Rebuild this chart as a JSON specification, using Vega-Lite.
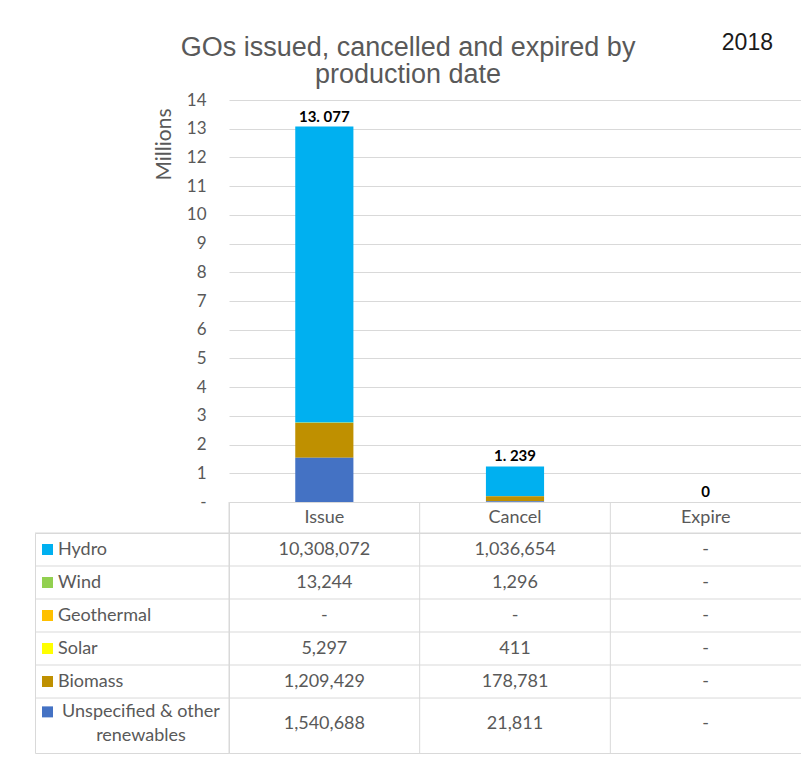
{
  "$schema": "https://vega.github.io/schema/vega-lite/v6.json",
  "padding": {"left": 34, "top": 32, "right": 1, "bottom": 5},
  "background": "white",
  "datasets": {
    "go": [
      {"source": "Hydro", "stage": "Issue", "value": 10308072},
      {"source": "Hydro", "stage": "Cancel", "value": 1036654},
      {"source": "Hydro", "stage": "Expire", "value": 0},
      {"source": "Wind", "stage": "Issue", "value": 13244},
      {"source": "Wind", "stage": "Cancel", "value": 1296},
      {"source": "Wind", "stage": "Expire", "value": 0},
      {"source": "Geothermal", "stage": "Issue", "value": 0},
      {"source": "Geothermal", "stage": "Cancel", "value": 0},
      {"source": "Geothermal", "stage": "Expire", "value": 0},
      {"source": "Solar", "stage": "Issue", "value": 5297},
      {"source": "Solar", "stage": "Cancel", "value": 411},
      {"source": "Solar", "stage": "Expire", "value": 0},
      {"source": "Biomass", "stage": "Issue", "value": 1209429},
      {"source": "Biomass", "stage": "Cancel", "value": 178781},
      {"source": "Biomass", "stage": "Expire", "value": 0},
      {"source": "Unspecified & other renewables", "stage": "Issue", "value": 1540688},
      {"source": "Unspecified & other renewables", "stage": "Cancel", "value": 21811},
      {"source": "Unspecified & other renewables", "stage": "Expire", "value": 0}
    ]
  },
  "data": {"name": "go"},
  "columns": 2,
  "spacing": 0,
  "bounds": "flush",
  "concat": [
    {
      "width": 194,
      "height": 402,
      "title": {
        "text": ["GOs issued, cancelled and expired by", "production date"],
        "anchor": "start",
        "align": "center",
        "baseline": "alphabetic",
        "frame": "group",
        "offset": -10,
        "dx": 373,
        "fontSize": 27,
        "font": "Liberation Sans",
        "fontWeight": "normal",
        "color": "#595959",
        "lineHeight": 27
      },
      "data": {"values": []},
      "mark": "point"
    },
    {
      "width": 572,
      "height": 402,
      "title": {
        "text": "2018",
        "anchor": "end",
        "baseline": "alphabetic",
        "frame": "group",
        "offset": 18,
        "dx": -28,
        "fontSize": 23,
        "font": "Liberation Sans",
        "fontWeight": "normal",
        "color": "#1a1a1a"
      },
      "encoding": {
        "x": {
          "field": "stage",
          "type": "nominal",
          "sort": ["Issue", "Cancel", "Expire"],
          "scale": {"paddingInner": 0, "paddingOuter": 0},
          "axis": null
        }
      },
      "layer": [
        {
          "transform": [
            {"calculate": "indexof(['Unspecified & other renewables', 'Biomass', 'Solar', 'Geothermal', 'Wind', 'Hydro'], datum.source)", "as": "stackorder"}
          ],
          "mark": {"type": "bar", "width": {"band": 0.305}},
          "encoding": {
            "y": {
              "field": "value",
              "type": "quantitative",
              "stack": "zero",
              "scale": {"domain": [0, 14000000], "nice": false},
              "axis": {
                "values": [0, 1000000, 2000000, 3000000, 4000000, 5000000, 6000000, 7000000, 8000000, 9000000, 10000000, 11000000, 12000000, 13000000, 14000000],
                "tickCount": 20,
                "labelExpr": "datum.value == 0 ? '-' : format(datum.value / 1000000, 'd')",
                "labelOverlap": false,
                "title": "Millions",
                "titleAnchor": "end",
                "titleY": 8,
                "titleFont": "Lato",
                "titleFontSize": 21,
                "titleFontWeight": "normal",
                "titleColor": "#595959",
                "titlePadding": 12,
                "labelFont": "Lato",
                "labelFontSize": 17,
                "labelColor": "#595959",
                "labelPadding": 23,
                "ticks": false,
                "domain": false,
                "grid": true,
                "gridColor": "#d9d9d9"
              }
            },
            "color": {
              "field": "source",
              "type": "nominal",
              "scale": {
                "domain": ["Unspecified & other renewables", "Biomass", "Solar", "Geothermal", "Wind", "Hydro"],
                "range": ["#4472C4", "#BF9000", "#FFFF00", "#FFC000", "#92D050", "#00B0F0"]
              },
              "legend": null
            },
            "order": {"field": "stackorder", "type": "quantitative", "sort": "ascending"}
          }
        },
        {
          "transform": [
            {"aggregate": [{"op": "sum", "field": "value", "as": "total"}], "groupby": ["stage"]},
            {"calculate": "datum.total == 0 ? '0' : replace(format(datum.total / 1000000, '.3f'), '.', '. ')", "as": "label"}
          ],
          "mark": {"type": "text", "baseline": "alphabetic", "dy": -5, "font": "Lato", "fontWeight": "bold", "fontSize": 15, "color": "#000000"},
          "encoding": {
            "y": {
              "field": "total",
              "type": "quantitative",
              "axis": {
                "values": [0, 1000000, 2000000, 3000000, 4000000, 5000000, 6000000, 7000000, 8000000, 9000000, 10000000, 11000000, 12000000, 13000000, 14000000],
                "tickCount": 20,
                "labelExpr": "datum.value == 0 ? '-' : format(datum.value / 1000000, 'd')",
                "labelOverlap": false,
                "title": "Millions",
                "titleAnchor": "end",
                "titleY": 8,
                "titleFont": "Lato",
                "titleFontSize": 21,
                "titleFontWeight": "normal",
                "titleColor": "#595959",
                "titlePadding": 12,
                "labelFont": "Lato",
                "labelFontSize": 17,
                "labelColor": "#595959",
                "labelPadding": 23,
                "ticks": false,
                "domain": false,
                "grid": true,
                "gridColor": "#d9d9d9"
              }
            },
            "text": {"field": "label"}
          }
        }
      ]
    },
    {
      "width": 194,
      "height": 31,
      "data": {"values": []},
      "mark": "point"
    },
    {
      "width": 572,
      "height": 31,
      "view": {"stroke": "#d9d9d9"},
      "transform": [{"aggregate": [{"op": "count", "as": "n"}], "groupby": ["stage"]}],
      "layer": [
        {
          "mark": {"type": "rule", "color": "#d9d9d9"},
          "encoding": {
            "x": {"field": "stage", "type": "nominal", "sort": ["Issue", "Cancel", "Expire"], "bandPosition": 0, "scale": {"paddingInner": 0, "paddingOuter": 0}, "axis": null}
          }
        },
        {
          "mark": {"type": "text", "font": "Lato", "fontSize": 18, "color": "#595959"},
          "encoding": {
            "x": {"field": "stage", "type": "nominal", "sort": ["Issue", "Cancel", "Expire"], "scale": {"paddingInner": 0, "paddingOuter": 0}, "axis": null},
            "text": {"field": "stage"}
          }
        }
      ]
    },
    {
      "width": 194,
      "height": 220,
      "view": {"stroke": "#d9d9d9"},
      "transform": [{"aggregate": [{"op": "count", "as": "n"}], "groupby": ["source"]}],
      "layer": [
        {
          "mark": {"type": "rule", "color": "#d9d9d9"},
          "encoding": {
            "y": {"field": "source", "type": "nominal", "bandPosition": 0, "sort": ["Hydro", "Wind", "Geothermal", "Solar", "Biomass", "Unspecified & other renewables"], "scale": {"paddingInner": 0, "paddingOuter": 0.333, "align": 0}, "axis": null}
          }
        },
        {
          "transform": [{"filter": "datum.source != 'Unspecified & other renewables'"}],
          "mark": {"type": "square", "size": 121, "filled": true, "opacity": 1, "xOffset": 12.5},
          "encoding": {
            "x": {"datum": 0, "type": "quantitative", "scale": {"domain": [0, 1]}, "axis": null},
            "y": {"field": "source", "type": "nominal", "sort": ["Hydro", "Wind", "Geothermal", "Solar", "Biomass", "Unspecified & other renewables"], "axis": null},
            "color": {
              "field": "source",
              "type": "nominal",
              "scale": {
                "domain": ["Unspecified & other renewables", "Biomass", "Solar", "Geothermal", "Wind", "Hydro"],
                "range": ["#4472C4", "#BF9000", "#FFFF00", "#FFC000", "#92D050", "#00B0F0"]
              },
              "legend": null
            }
          }
        },
        {
          "transform": [{"filter": "datum.source == 'Unspecified & other renewables'"}],
          "mark": {"type": "square", "size": 121, "filled": true, "opacity": 1, "xOffset": 12.5},
          "encoding": {
            "x": {"datum": 0, "type": "quantitative", "scale": {"domain": [0, 1]}, "axis": null},
            "y": {"field": "source", "type": "nominal", "bandPosition": 0.42, "sort": ["Hydro", "Wind", "Geothermal", "Solar", "Biomass", "Unspecified & other renewables"], "axis": null},
            "color": {
              "field": "source",
              "type": "nominal",
              "scale": {
                "domain": ["Unspecified & other renewables", "Biomass", "Solar", "Geothermal", "Wind", "Hydro"],
                "range": ["#4472C4", "#BF9000", "#FFFF00", "#FFC000", "#92D050", "#00B0F0"]
              },
              "legend": null
            }
          }
        },
        {
          "transform": [{"filter": "datum.source != 'Unspecified & other renewables'"}],
          "mark": {"type": "text", "align": "left", "dx": 23, "font": "Lato", "fontSize": 18, "color": "#595959"},
          "encoding": {
            "x": {"datum": 0, "type": "quantitative", "scale": {"domain": [0, 1]}, "axis": null},
            "y": {"field": "source", "type": "nominal", "sort": ["Hydro", "Wind", "Geothermal", "Solar", "Biomass", "Unspecified & other renewables"], "axis": null},
            "text": {"field": "source"}
          }
        },
        {
          "transform": [
            {"filter": "datum.source == 'Unspecified & other renewables'"},
            {"calculate": "replace(datum.source, 'other ', 'other\\n')", "as": "lbl"}
          ],
          "mark": {"type": "text", "align": "center", "dx": 9, "lineBreak": "\n", "lineHeight": 24, "font": "Lato", "fontSize": 18, "color": "#595959"},
          "encoding": {
            "x": {"datum": 0.5, "type": "quantitative", "scale": {"domain": [0, 1]}, "axis": null},
            "y": {"field": "source", "type": "nominal", "bandPosition": 0.42, "sort": ["Hydro", "Wind", "Geothermal", "Solar", "Biomass", "Unspecified & other renewables"], "axis": null},
            "text": {"field": "lbl"}
          }
        }
      ]
    },
    {
      "width": 572,
      "height": 220,
      "view": {"stroke": "#d9d9d9"},
      "layer": [
        {
          "transform": [{"aggregate": [{"op": "count", "as": "n"}], "groupby": ["source"]}],
          "mark": {"type": "rule", "color": "#d9d9d9"},
          "encoding": {
            "y": {"field": "source", "type": "nominal", "bandPosition": 0, "sort": ["Hydro", "Wind", "Geothermal", "Solar", "Biomass", "Unspecified & other renewables"], "scale": {"paddingInner": 0, "paddingOuter": 0.333, "align": 0}, "axis": null}
          }
        },
        {
          "transform": [{"aggregate": [{"op": "count", "as": "n"}], "groupby": ["stage"]}],
          "mark": {"type": "rule", "color": "#d9d9d9"},
          "encoding": {
            "x": {"field": "stage", "type": "nominal", "bandPosition": 0, "sort": ["Issue", "Cancel", "Expire"], "scale": {"paddingInner": 0, "paddingOuter": 0}, "axis": null}
          }
        },
        {
          "transform": [
            {"filter": "datum.source != 'Unspecified & other renewables'"},
            {"calculate": "datum.value == 0 ? '-' : format(datum.value, ',')", "as": "shown"}
          ],
          "mark": {"type": "text", "font": "Lato", "fontSize": 18, "color": "#595959"},
          "encoding": {
            "x": {"field": "stage", "type": "nominal", "sort": ["Issue", "Cancel", "Expire"], "axis": null},
            "y": {"field": "source", "type": "nominal", "sort": ["Hydro", "Wind", "Geothermal", "Solar", "Biomass", "Unspecified & other renewables"], "axis": null},
            "text": {"field": "shown"}
          }
        },
        {
          "transform": [
            {"filter": "datum.source == 'Unspecified & other renewables'"},
            {"calculate": "datum.value == 0 ? '-' : format(datum.value, ',')", "as": "shown"}
          ],
          "mark": {"type": "text", "font": "Lato", "fontSize": 18, "color": "#595959"},
          "encoding": {
            "x": {"field": "stage", "type": "nominal", "sort": ["Issue", "Cancel", "Expire"], "axis": null},
            "y": {"field": "source", "type": "nominal", "bandPosition": 0.79, "sort": ["Hydro", "Wind", "Geothermal", "Solar", "Biomass", "Unspecified & other renewables"], "axis": null},
            "text": {"field": "shown"}
          }
        }
      ]
    }
  ],
  "config": {
    "view": {"stroke": null},
    "font": "Lato"
  }
}
